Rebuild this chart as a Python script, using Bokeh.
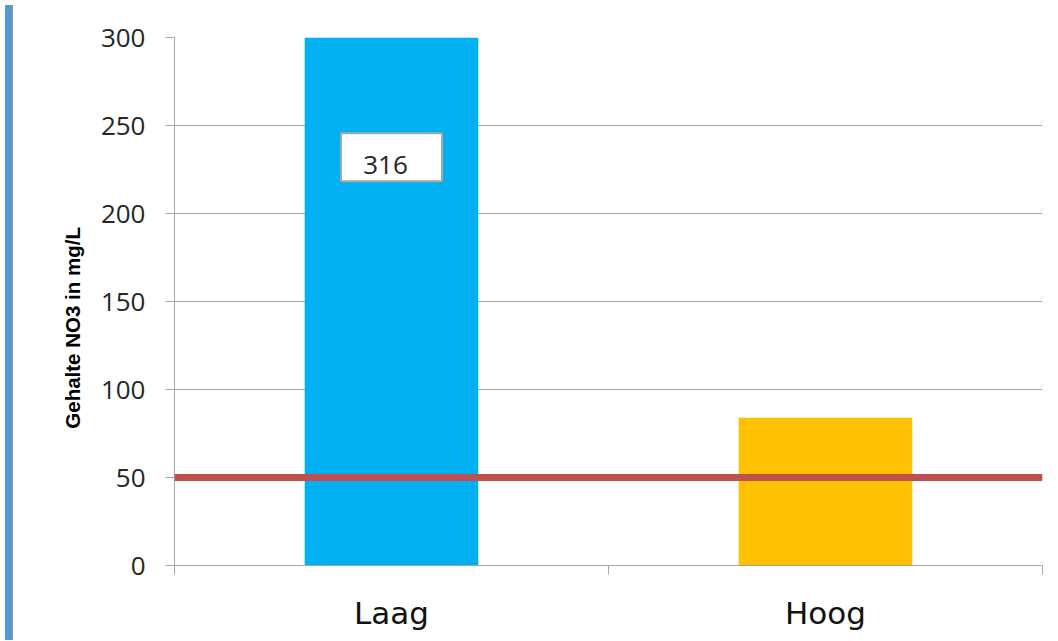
import math
from bokeh.plotting import figure
from bokeh.models import Span, LinearAxis, Range1d, FixedTicker, Div
from bokeh.layouts import row
from bokeh.core.properties import value
from bokeh.embed import file_html
from bokeh.resources import INLINE

# ---- data ----
categories = ["Laag", "Hoog"]
values = [316, 84]
bar_colors = ["#00B0F0", "#FFC000"]
y_ticks = [0, 50, 100, 150, 200, 250, 300]
threshold = 50
y_title = "Gehalte NO3 in mg/L"

GRAY = "#A6A6A6"
FIG_H = 635
TOP, BOTTOM = 37, 70
TITLE_W = 79

n = len(categories)
centers = [i + 0.5 for i in range(n)]        # category slot centres
bounds = [float(i) for i in range(n + 1)]     # category slot boundaries

y_range = Range1d(0, 300)

p = figure(width=1034 - TITLE_W, height=FIG_H,
           x_range=Range1d(0, n), y_range=y_range,
           x_axis_location=None, output_backend="svg", toolbar_location=None,
           min_border_left=149 - TITLE_W, min_border_right=10, min_border_top=TOP,
           min_border_bottom=BOTTOM)
p.outline_line_color = None
p.background_fill_color = "white"
p.border_fill_color = "white"
p.xgrid.visible = False

# category axis: names at slot centres, ticks on the slot boundaries
x_axis = LinearAxis(ticker=FixedTicker(ticks=centers, minor_ticks=bounds),
                    major_label_overrides={c: name for c, name in zip(centers, categories)},
                    axis_line_color=GRAY,
                    major_tick_line_color=None, major_tick_out=0, major_tick_in=0,
                    minor_tick_line_color=GRAY, minor_tick_out=9, minor_tick_in=0,
                    major_label_text_font="DejaVu Sans",
                    major_label_text_font_size="31px",
                    major_label_text_color="#111111",
                    major_label_standoff=20)
p.add_layout(x_axis, "below")

# y axis
p.yaxis.ticker = FixedTicker(ticks=y_ticks)
p.yaxis.major_tick_out = 9
p.yaxis.major_tick_in = 0
p.yaxis.minor_tick_line_color = None
p.yaxis.axis_line_color = GRAY
p.yaxis.major_tick_line_color = GRAY
p.yaxis.major_label_text_font = "Open Sans"
p.yaxis.major_label_text_font_size = "26px"
p.yaxis.major_label_text_color = "#262626"
p.yaxis.major_label_standoff = 20

p.ygrid.ticker = FixedTicker(ticks=y_ticks)
p.ygrid.grid_line_color = GRAY
p.ygrid.grid_line_width = 1

# bars
p.vbar(x=centers, top=values, width=0.4, fill_color=bar_colors, line_color=None)

# limit line
p.add_layout(Span(location=threshold, dimension="width",
                  line_color="#C0504D", line_width=7))

# data label for the clipped bar
label_y = 232
p.rect(x=[centers[0]], y=[label_y], width=101, height=48,
       width_units="screen", height_units="screen",
       fill_color="white", line_color=GRAY, line_width=2)
p.text(x=[centers[0]], y=[label_y], text=[str(values[0])],
       text_font=value("Open Sans"), text_font_size="26px",
       text_align="center", text_baseline="middle",
       x_offset=-6, y_offset=8, text_color="#262626")

# y-axis title in a narrow strip that shares the value range,
# sitting a little below the frame centre as in the original
title_y = 135
tp = figure(width=TITLE_W, height=FIG_H, x_range=Range1d(0, TITLE_W), y_range=y_range,
            x_axis_location=None, y_axis_location=None,
            output_backend="svg", toolbar_location=None,
            min_border_left=0, min_border_right=0, min_border_top=TOP,
            min_border_bottom=BOTTOM)
tp.outline_line_color = None
tp.background_fill_color = "white"
tp.border_fill_color = "white"
tp.xgrid.visible = False
tp.ygrid.visible = False
tp.text(x=[54], y=[title_y], text=[y_title], angle=math.pi / 2,
        text_font=value("Liberation Sans"), text_font_style="bold",
        text_font_size="20.5px", text_color="#000000",
        text_align="center", text_baseline="middle")

edge = Div(width=8, height=FIG_H, text="",
           styles={"background-color": "#4A9BD6", "border-right": "2px solid #8F8F8F",
                   "box-sizing": "border-box"})

layout = row(edge, tp, p)
open("out.html", "w").write(file_html(layout, INLINE))
